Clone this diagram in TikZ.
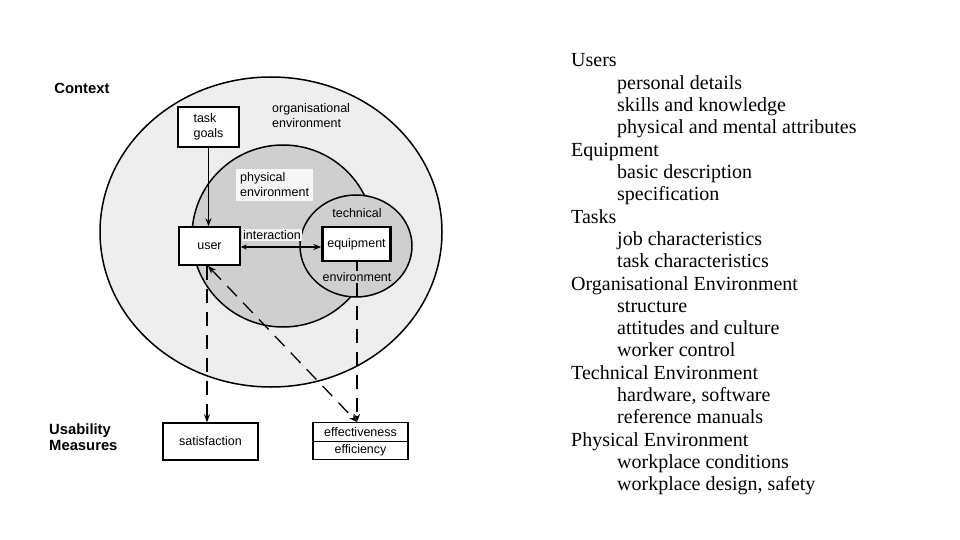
\documentclass[tikz,border=0pt]{standalone}
\usepackage{fontspec}
\setmainfont{Liberation Serif}
\newfontfamily\diagfont{Liberation Sans}
\usetikzlibrary{arrows.meta}
\begin{document}
\begin{tikzpicture}[x=1pt,y=-1pt,
  dtext/.style={font=\diagfont\fontsize{12.5}{15}\selectfont, inner sep=1pt, align=left},
  btext/.style={font=\diagfont\bfseries\fontsize{14.8}{15.5}\selectfont, inner sep=0pt, align=left},
  boxn/.style={draw, line width=1.4pt, fill=white, dtext, inner sep=0pt},
  ring/.style={draw, line width=1.5pt},
  tip/.style={-{Stealth[length=8pt,width=6pt]}},
  dsh/.style={line width=1.3pt, dash pattern=on 14pt off 9pt},
  listtxt/.style={font=\fontsize{20}{22.3}\selectfont, inner sep=0pt}
]
\useasboundingbox (0,0) rectangle (960,540);
\fill[white] (0,0) rectangle (960,540);

% environments
\draw[ring, fill=gray!13] (271,232) ellipse [x radius=171pt, y radius=155pt];
\draw[ring, fill=gray!38] (283,236) circle [radius=91pt];
\draw[ring, fill=gray!38] (356,246) ellipse [x radius=56pt, y radius=51pt];

% labels of environments
\node[dtext, anchor=west] (org) at (271,116) {organisational\\environment};
\node[dtext, anchor=west, fill=gray!6, inner sep=4pt] (phys) at (236,185) {physical\\environment};
\node[dtext] (tech) at (357,213) {technical};

% boxes
\node[boxn, minimum width=61pt, minimum height=40pt] (goals) at (208.5,127) {task\\goals};
\node[boxn, minimum width=61pt, minimum height=38pt] (user) at (209.5,246) {user};
\node[boxn, line width=2.4pt, minimum width=68pt, minimum height=34pt] (equip) at (356.5,244) {equipment};
\node[dtext] (envlabel) at (357,277) {environment};

\node[boxn, minimum width=95pt, minimum height=37pt] (sat) at (210.5,441.5) {satisfaction};
\node[boxn, minimum width=95pt, minimum height=18.5pt] (eff) at (360.5,432) {effectiveness};
\node[boxn, minimum width=95pt, minimum height=18.5pt] (effic) at (360.5,450.5) {efficiency};

% side labels
\node[btext] (context) at (82,88) {Context};
\node[btext, anchor=west] (usab) at (49,437) {Usability\\Measures};

% connectors
\draw[line width=1.2pt, tip] (goals.south) -- (goals.south |- user.north);
\node[dtext, fill=gray!10] (inter) at (272,235) {interaction};
\draw[line width=1.3pt, {Stealth[length=6pt,width=5pt]}-{Stealth[length=8pt,width=6pt]}] ([yshift=-1pt]user.east) -- ([yshift=-1pt]user.east -| equip.west);
\draw[line width=1.2pt] (equip.south -| envlabel.north) -- (envlabel.north);
\coordinate (meet) at (envlabel.south |- eff.north);
\coordinate (dstart) at (208,266);
\draw[dsh, tip] (envlabel.south) -- (meet);
\draw[dsh, tip] (user.south -| 207,0) -- (sat.north -| 207,0);
\draw[dsh, {Stealth[length=8pt,width=6pt]}-{Stealth[length=8pt,width=6pt]}] (dstart) -- (meet);

% right list
\foreach \i/\ind/\t in {0/0/Users, 1/1/personal details, 2/1/skills and knowledge,
  3/1/physical and mental attributes, 4/0/Equipment, 5/1/basic description,
  6/1/specification, 7/0/Tasks, 8/1/job characteristics, 9/1/task characteristics,
  10/0/Organisational Environment, 11/1/structure, 12/1/attitudes and culture,
  13/1/worker control, 14/0/Technical Environment, 15/1/{hardware, software},
  16/1/reference manuals, 17/0/Physical Environment, 18/1/workplace conditions,
  19/1/{workplace design, safety}}{
  \node[listtxt, anchor=base west] (r\i) at ({571+46*\ind}, {67+22.3*\i}) {\t};
}
\end{tikzpicture}
\end{document}
